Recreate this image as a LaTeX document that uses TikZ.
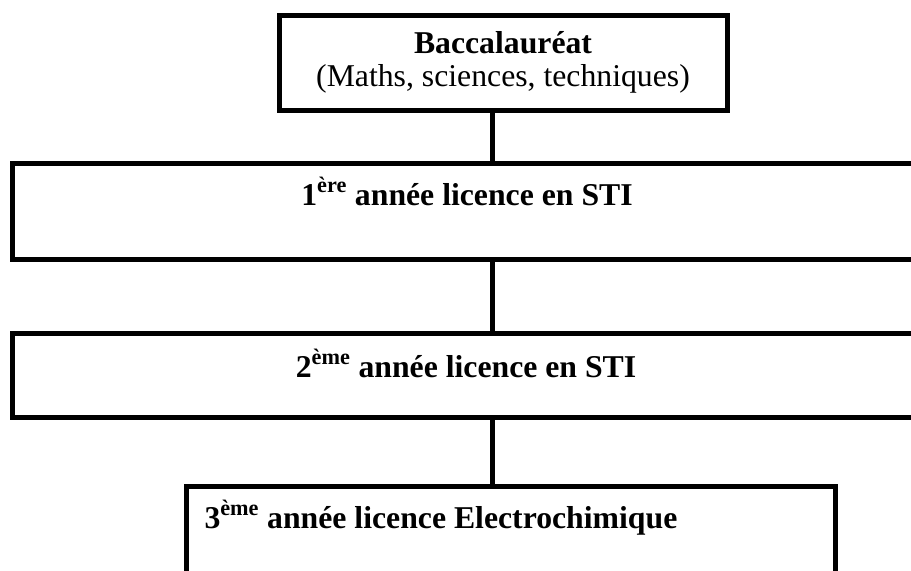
\documentclass[tikz,border=0pt]{standalone}
\usepackage{fontspec}
\setmainfont{Liberation Serif}
\usetikzlibrary{fit}
\newcommand{\boxfont}{\fontsize{23.8pt}{28pt}\selectfont}

\begin{document}
\begin{tikzpicture}[x=0.75pt, y=-0.75pt, line width=3.75pt,
    box/.style={draw, rectangle, inner sep=0pt},
    title/.style={inner sep=0pt, anchor=base, font=\boxfont\bfseries},
    plain/.style={inner sep=0pt, anchor=base, font=\boxfont}]
\useasboundingbox[fill=white] (0,0) rectangle (911,571);
\coordinate (axis) at (492,0);
\node[box, fit={(279,15) (727,110)}] (bac) {};
\node[title] (bactitle) at (503,53) {Baccalauréat};
\node[plain] (bacsub) at (503,86) {(Maths, sciences, techniques)};
\node[box, fit={(12,163) (922,259)}] (lic1) {};
\node[title] (lic1text) at (467,205) {1\textsuperscript{ère} année licence en STI};
\node[box, fit={(12,333) (922,417)}] (lic2) {};
\node[title] (lic2text) at (466,377) {2\textsuperscript{ème} année licence en STI};
\node[box, fit={(186,486) (835,620)}] (lic3) {};
\node[title, anchor=base west] (lic3text) at (202,528) {3\textsuperscript{ème} année licence Electrochimique};

\draw (bac.south -| axis) -- (lic1.north -| axis);
\draw (lic1.south -| axis) -- (lic2.north -| axis);
\draw (lic2.south -| axis) -- (lic3.north -| axis);
\end{tikzpicture}
\end{document}
